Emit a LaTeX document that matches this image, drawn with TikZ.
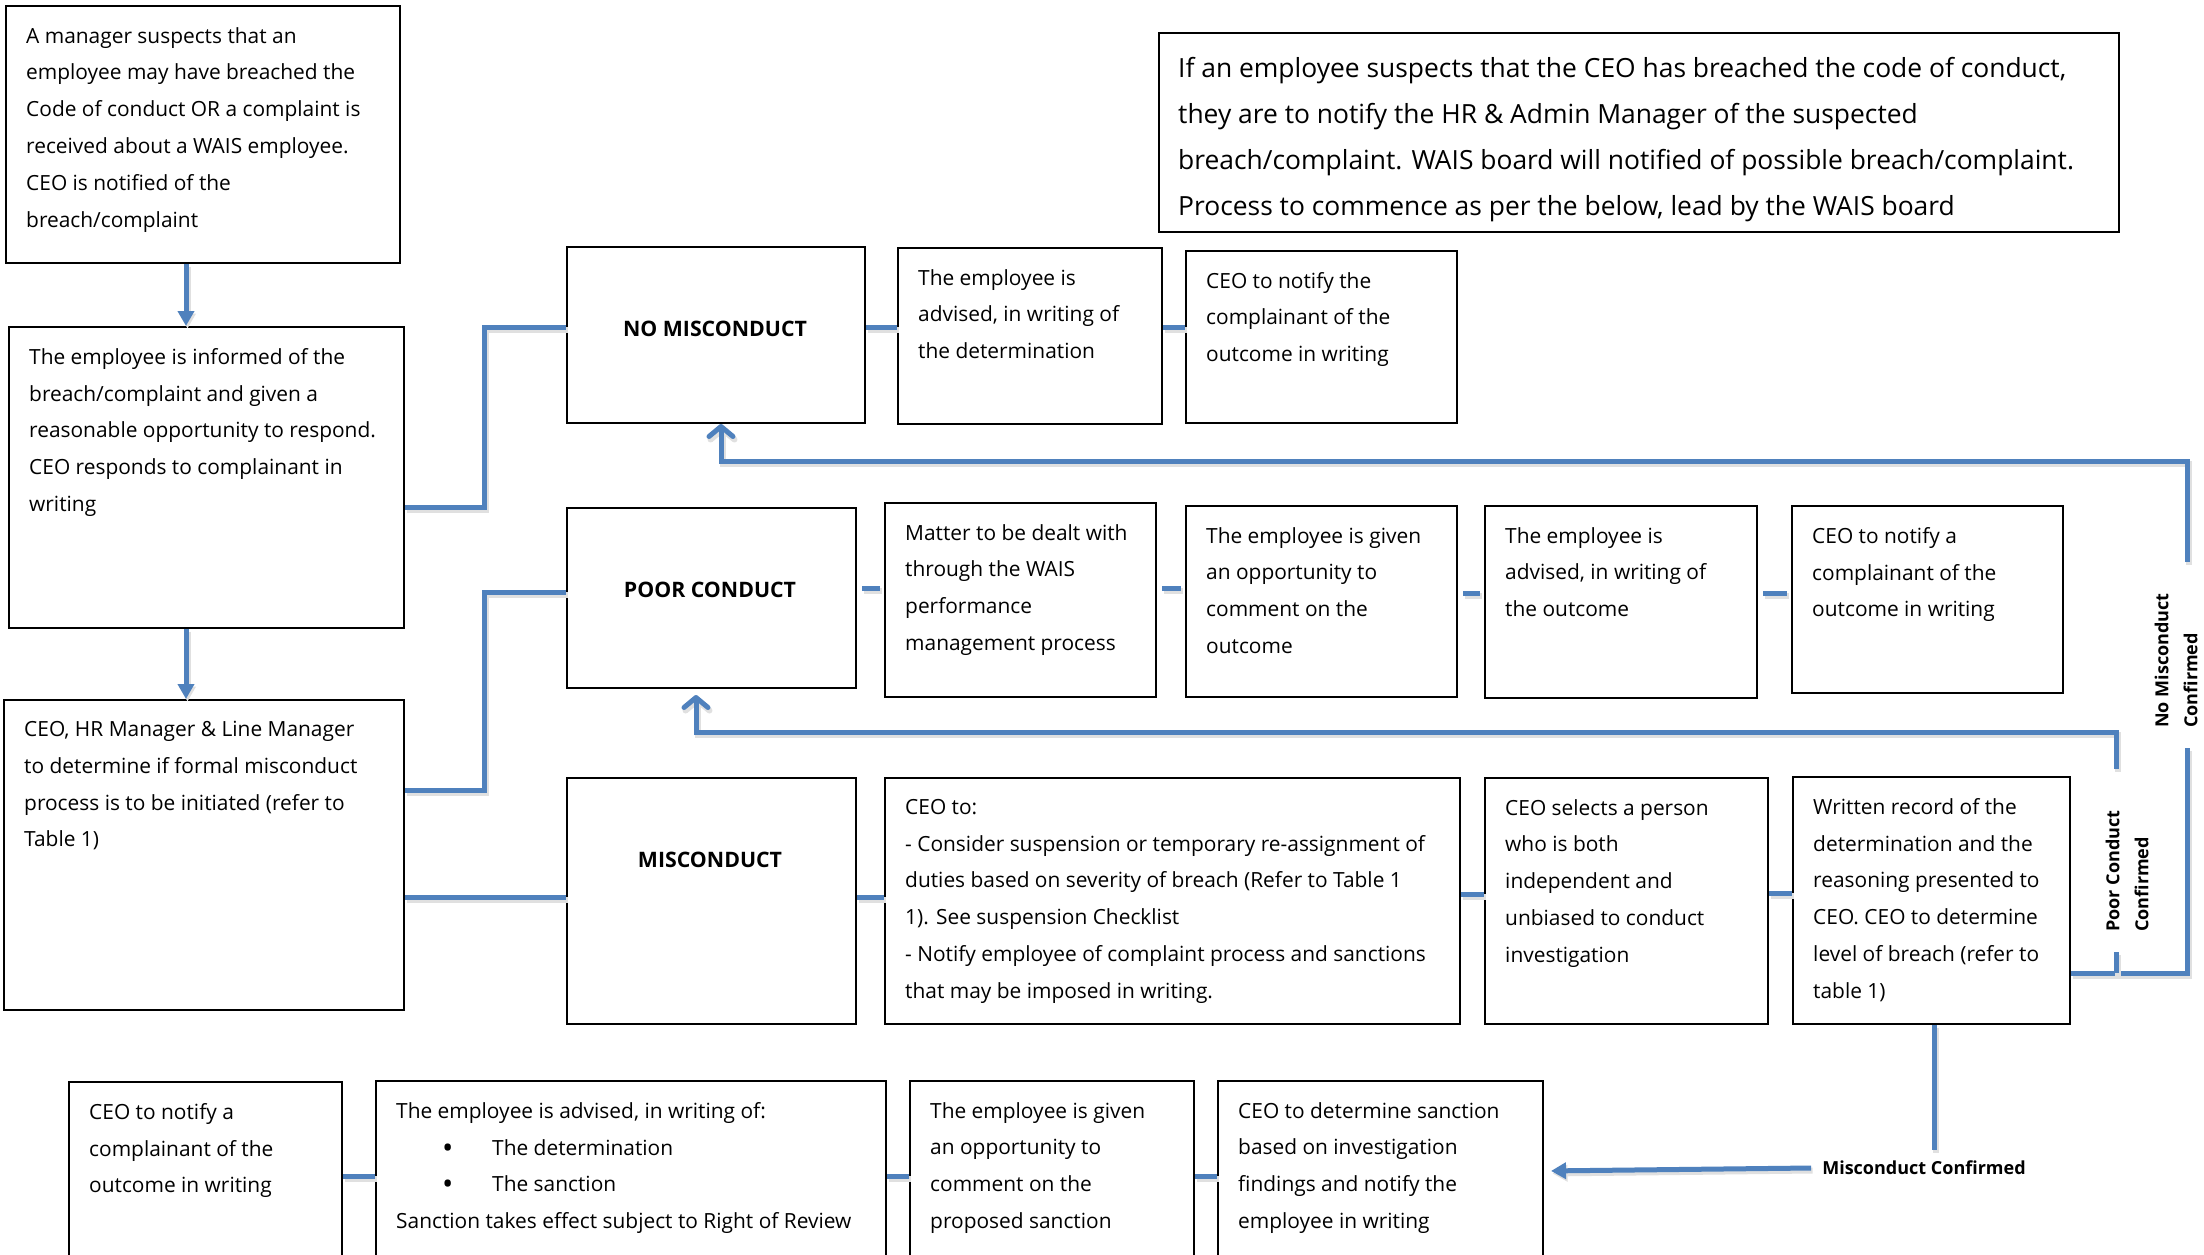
\documentclass[tikz,border=0pt]{standalone}
\usepackage{fontspec}
\setmainfont{Open Sans}
\usetikzlibrary{arrows.meta}
\definecolor{lblue}{HTML}{4F81BD}
\newcommand{\mybox}[5]{\node[boxst, minimum width={#4pt-#2pt}, minimum height={#5pt-#3pt}] (#1) at (#2,#3) {};}
\newcommand{\bigbul}{\makebox[96pt][l]{\hspace*{46pt}\raisebox{-3pt}{\fontsize{30}{30}\selectfont•}}}
\tikzset{
 boxst/.style={draw=black, line width=2pt, inner sep=0pt, anchor=north west},
 txtst/.style={anchor=north west, inner sep=0pt, align=left, font=\fontsize{20.9}{36.8}\selectfont},
 notest/.style={anchor=north west, inner sep=0pt, align=left, font=\fontsize{26.4}{46}\selectfont},
 headst/.style={inner sep=0pt, font=\fontsize{21.3}{25}\selectfont\bfseries},
 sidest/.style={inner sep=0pt, align=left, font=\fontsize{18}{29}\selectfont\bfseries},
 conn/.style={draw=lblue, line width=5pt, preaction={draw=black!12, line width=6pt, transform canvas={shift={(1.5pt,-2.5pt)}}}},
 tri/.style={-{Triangle[length=15pt,width=16pt]}},
 barb/.style={-{Straight Barb[length=10pt,width=24pt,round]}},
 gapped/.style={shorten <=5pt, shorten >=4pt},
}
\begin{document}
\begin{tikzpicture}[x=1pt,y=-1pt]
\useasboundingbox (0,0) rectangle (2204,1254);
\fill[white] (0,0) rectangle (2204,1254);
\begin{scope}
\clip (0,0) rectangle (2204,1254);
% boxes
\mybox{A}{5}{5}{399}{262}
\mybox{B}{8}{326}{403}{627}
\mybox{C}{3}{699}{403}{1009}
\mybox{NM}{566}{246}{864}{422}
\mybox{PC}{566}{507}{855}{687}
\mybox{MC}{566}{777}{855}{1023}
\mybox{R1a}{897}{247}{1161}{423}
\mybox{R1b}{1185}{250}{1456}{422}
\mybox{N}{1158}{32}{2118}{231}
\mybox{R2a}{884}{502}{1155}{696}
\mybox{R2b}{1185}{505}{1456}{696}
\mybox{R2c}{1484}{505}{1756}{697}
\mybox{R2d}{1791}{505}{2062}{692}
\mybox{R3a}{884}{777}{1459}{1023}
\mybox{R3b}{1484}{777}{1767}{1023}
\mybox{R3c}{1792}{776}{2069}{1023}
\mybox{R4a}{68}{1081}{341}{1290}
\mybox{R4b}{375}{1080}{885}{1290}
\mybox{R4c}{909}{1080}{1193}{1290}
\mybox{R4d}{1217}{1080}{1542}{1290}
% texts
\node[txtst] (At) at (26,27) {A manager suspects that an\\employee may have breached the\\Code of conduct OR a complaint is\\received about a WAIS employee.\\CEO is notified of the\\breach/complaint};
\node[txtst] (Bt) at (29,348) {The employee is informed of the\\breach/complaint and given a\\reasonable opportunity to respond.\\CEO responds to complainant in\\writing};
\node[txtst] (Ct) at (24,721) {CEO, HR Manager \& Line Manager\\to determine if formal misconduct\\process is to be initiated (refer to\\Table 1)};
\node[headst] (NMt) at (715,329) {NO MISCONDUCT};
\node[headst] (PCt) at (710,590) {POOR CONDUCT};
\node[headst] (MCt) at (710,860) {MISCONDUCT};
\node[txtst] (R1at) at (918,269) {The employee is\\advised, in writing of\\the determination};
\node[txtst] (R1bt) at (1206,272) {CEO to notify the\\complainant of the\\outcome in writing};
\node[notest] (Nt) at (1178,57) {If an employee suspects that the CEO has breached the code of conduct,\\they are to notify the HR \& Admin Manager of the suspected\\breach/complaint. WAIS board will notified of possible breach/complaint.\\Process to commence as per the below, lead by the WAIS board};
\node[txtst] (R2at) at (905,524) {Matter to be dealt with\\through the WAIS\\performance\\management process};
\node[txtst] (R2bt) at (1206,527) {The employee is given\\an opportunity to\\comment on the\\outcome};
\node[txtst] (R2ct) at (1505,527) {The employee is\\advised, in writing of\\the outcome};
\node[txtst] (R2dt) at (1812,527) {CEO to notify a\\complainant of the\\outcome in writing};
\node[txtst] (R3at) at (905,799) {CEO to:\\- Consider suspension or temporary re-assignment of\\duties based on severity of breach (Refer to Table 1\\1). See suspension Checklist\\- Notify employee of complaint process and sanctions\\that may be imposed in writing.};
\node[txtst] (R3bt) at (1505,799) {CEO selects a person\\who is both\\independent and\\unbiased to conduct\\investigation};
\node[txtst] (R3ct) at (1813,798) {Written record of the\\determination and the\\reasoning presented to\\CEO. CEO to determine\\level of breach (refer to\\table 1)};
\node[txtst] (R4at) at (89,1103) {CEO to notify a\\complainant of the\\outcome in writing};
\node[txtst] (R4bt) at (396,1102) {The employee is advised, in writing of:\\\bigbul The determination\\\bigbul The sanction\\Sanction takes effect subject to Right of Review};
\node[txtst] (R4ct) at (930,1102) {The employee is given\\an opportunity to\\comment on the\\proposed sanction};
\node[txtst] (R4dt) at (1238,1102) {CEO to determine sanction\\based on investigation\\findings and notify the\\employee in writing};
% side labels
\node[sidest, rotate=90, anchor=west] (nml) at (2176,728) {No Misconduct\\Confirmed};
\node[sidest, rotate=90, anchor=west] (pcl) at (2127,932) {Poor Conduct\\Confirmed};
\node[sidest] (mcl) at (1924,1168) {Misconduct Confirmed};
% coordinates
\coordinate (nmB) at (2187,748);
\coordinate (nmT) at (2187,562);
\coordinate (pcJ) at (2116,973);
\coordinate (pcB) at (2116,952);
\coordinate (pcT) at (2116,769);
\coordinate (mcT) at (1934,1150);
% connectors
\draw[conn, tri] (A.south -| 186,0) -- (B.north -| 186,0);
\draw[conn, tri] (B.south -| 186,0) -- (C.north -| 186,0);
\draw[conn] (B.east |- 0,507) -- (484,507) |- (NM.west |- 0,327);
\draw[conn] (C.east |- 0,790) -- (484,790) |- (PC.west |- 0,592);
\draw[conn] (C.east |- 0,897) -- (MC.west |- 0,897);
\draw[conn] (NM.east |- 0,327) -- (R1a.west |- 0,327);
\draw[conn] (R1a.east |- 0,327) -- (R1b.west |- 0,327);
\draw[conn, gapped] (PC.east |- 0,588) -- (R2a.west |- 0,588);
\draw[conn, gapped] (R2a.east |- 0,588) -- (R2b.west |- 0,588);
\draw[conn, gapped] (R2b.east |- 0,593) -- (R2c.west |- 0,593);
\draw[conn, gapped] (R2c.east |- 0,593) -- (R2d.west |- 0,593);
\draw[conn] (MC.east |- 0,897) -- (R3a.west |- 0,897);
\draw[conn] (R3a.east |- 0,894) -- (R3b.west |- 0,894);
\draw[conn] (R3b.east |- 0,893) -- (R3c.west |- 0,893);
\draw[conn] (R3c.east |- 0,973) -- (2187,973) -- (nmB);
\draw[conn, barb] (nmT) -- (2187,461) -- (721,461) -- (NM.south -| 721,0);
\draw[conn] (pcJ) -- (pcB);
\draw[conn, barb, shorten >=6pt] (pcT) -- (2116,732) -- (696,732) -- (PC.south -| 696,0);
\draw[conn] (R3c.south -| 1934,0) -- (mcT);
\draw[conn, tri, shorten >=7pt] ([xshift=-11pt]mcl.west) -- (R4d.east |- 0,1171);
\draw[conn] (R4a.east |- 0,1176) -- (R4b.west |- 0,1176);
\draw[conn] (R4b.east |- 0,1176) -- (R4c.west |- 0,1176);
\draw[conn] (R4c.east |- 0,1176) -- (R4d.west |- 0,1176);
\end{scope}
\end{tikzpicture}
\end{document}
